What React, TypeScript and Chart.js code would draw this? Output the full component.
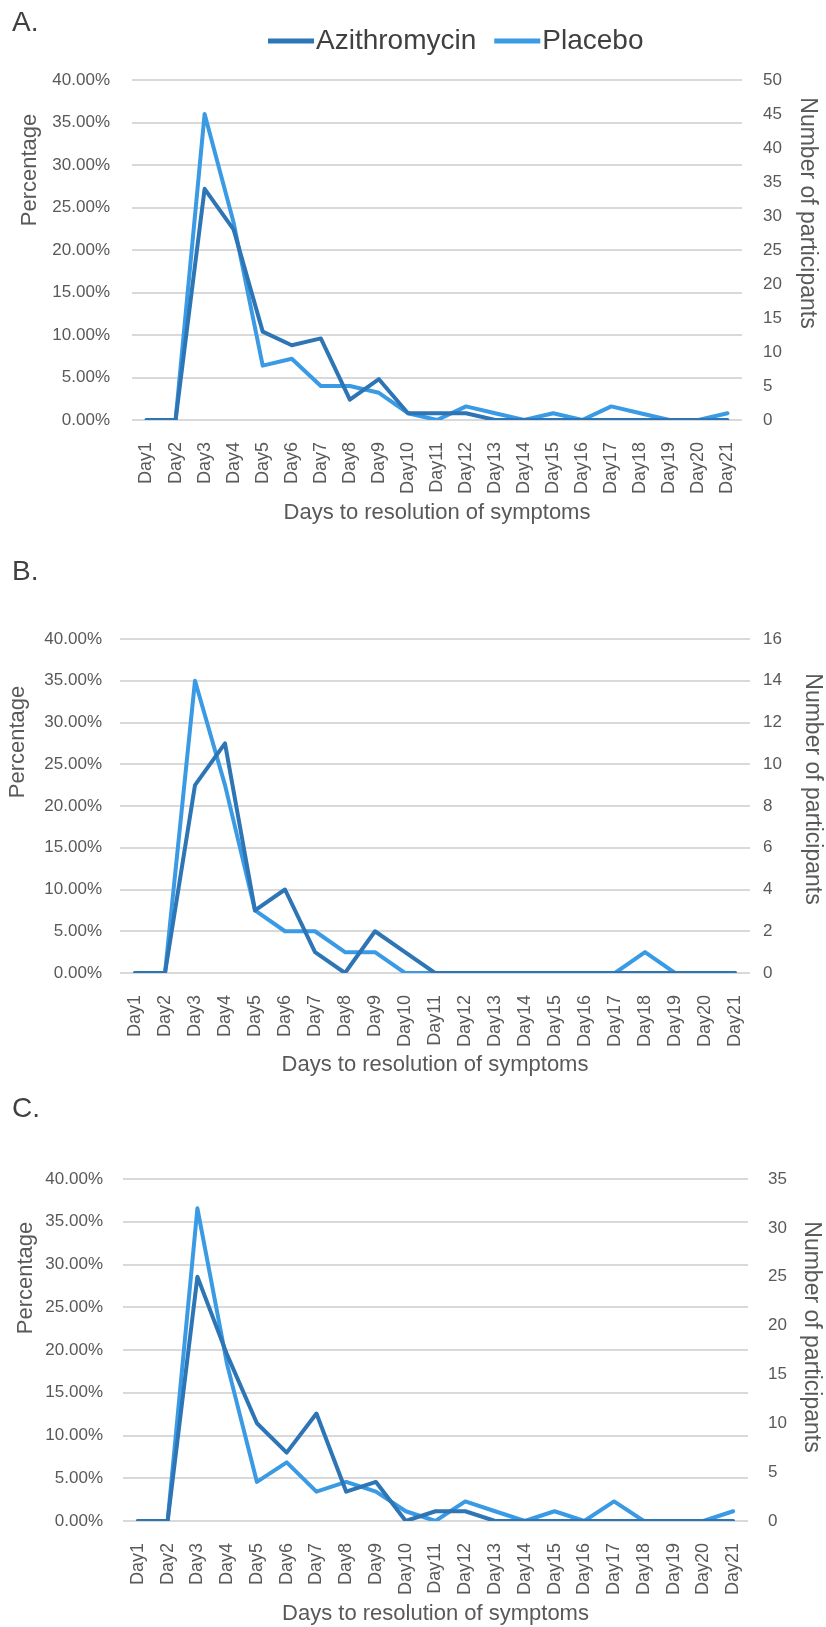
import React, { useEffect, useRef } from "react";
import { Chart, registerables } from "chart.js";

Chart.register(...registerables);

// ---------- data ----------
const days = [
  "Day1", "Day2", "Day3", "Day4", "Day5", "Day6", "Day7", "Day8", "Day9", "Day10",
  "Day11", "Day12", "Day13", "Day14", "Day15", "Day16", "Day17", "Day18", "Day19", "Day20", "Day21",
];

// Panel A (percentages)
const aAzithromycin = [0, 0, 27.2, 22.4, 10.4, 8.8, 9.6, 2.4, 4.8, 0.8, 0.8, 0.8, 0, 0, 0, 0, 0, 0, 0, 0, 0];
const aPlacebo = [0, 0, 36.0, 23.2, 6.4, 7.2, 4.0, 4.0, 3.2, 0.8, 0, 1.6, 0.8, 0, 0.8, 0, 1.6, 0.8, 0, 0, 0.8];
// Panel B
const bAzithromycin = [0, 0, 22.5, 27.5, 7.5, 10.0, 2.5, 0, 5.0, 2.5, 0, 0, 0, 0, 0, 0, 0, 0, 0, 0, 0];
const bPlacebo = [0, 0, 35.0, 22.5, 7.5, 5.0, 5.0, 2.5, 2.5, 0, 0, 0, 0, 0, 0, 0, 0, 2.5, 0, 0, 0];
// Panel C
const cAzithromycin = [0, 0, 28.57, 19.43, 11.43, 8.0, 12.57, 3.43, 4.57, 0, 1.14, 1.14, 0, 0, 0, 0, 0, 0, 0, 0, 0];
const cPlacebo = [0, 0, 36.57, 18.29, 4.57, 6.86, 3.43, 4.57, 3.43, 1.14, 0, 2.29, 1.14, 0, 1.14, 0, 2.29, 0, 0, 0, 1.14];

// axis ranges / ticks
const percentMax = 40;
const percentStep = 5;
const aCountMax = 50;
const aCountStep = 5;
const bCountMax = 16;
const bCountStep = 2;
const cCountMax = 35;
const cCountStep = 5;

const seriesNames = ["Azithromycin", "Placebo"];
const panelLetters = ["A.", "B.", "C."];
const xTitle = "Days to resolution of symptoms";
const yLeftTitle = "Percentage";
const yRightTitle = "Number of participants";

// ---------- styles ----------
const FONT = "'Liberation Sans', Arial, sans-serif";
const DARK = "#2E75B6";
const LIGHT = "#3A9AE4";
const TEXT = "#595959";
const GRID = "#D9D9D9";
const W = 826;

const freeTextPlugin = {
  id: "freeText",
  afterDraw(chart: any, _args: any, opts: any) {
    const ctx = chart.ctx;
    (opts.items || []).forEach((it: any) => {
      ctx.save();
      ctx.translate(it.x, it.y);
      ctx.rotate(((it.rotation || 0) * Math.PI) / 180);
      ctx.font = it.font;
      ctx.fillStyle = it.color;
      ctx.textAlign = "center";
      ctx.textBaseline = "middle";
      ctx.fillText(it.text, 0, 0);
      ctx.restore();
    });
  },
};

const lineLegendPlugin = {
  id: "lineLegend",
  afterDraw(chart: any, _args: any, opts: any) {
    if (!opts || !opts.show) return;
    const ctx = chart.ctx;
    ctx.save();
    ctx.font = opts.font;
    ctx.textBaseline = "middle";
    ctx.textAlign = "left";
    let x = opts.x;
    const y = opts.y;
    chart.data.datasets.forEach((ds: any) => {
      ctx.strokeStyle = ds.borderColor;
      ctx.lineWidth = opts.lineWidth;
      ctx.lineCap = "butt";
      ctx.beginPath();
      ctx.moveTo(x, y);
      ctx.lineTo(x + opts.lineLength, y);
      ctx.stroke();
      x += opts.lineLength + opts.textGap;
      ctx.fillStyle = opts.color;
      ctx.fillText(ds.label, x, y);
      x += ctx.measureText(ds.label).width + opts.itemGap;
    });
    ctx.restore();
  },
};

type PanelCfg = {
  top: number;
  height: number;
  plotTop: number;
  plotBottom: number;
  plotLeft: number;
  plotRight: number;
  azi: number[];
  pla: number[];
  countMax: number;
  countStep: number;
  leftPad: number;
  rightPad: number;
  xPad: number;
  xTitlePad: number;
  leftTitle: { x: number; y: number };
  rightTitle: { x: number; y: number };
  legend: boolean;
};

const panels: PanelCfg[] = [
  {
    top: 0, height: 545, plotTop: 80, plotBottom: 420, plotLeft: 132, plotRight: 742,
    azi: aAzithromycin, pla: aPlacebo, countMax: aCountMax, countStep: aCountStep,
    leftPad: 22, rightPad: 21, xPad: 14, xTitlePad: 19,
    leftTitle: { x: 30, y: 170 }, rightTitle: { x: 807, y: 213 }, legend: true,
  },
  {
    top: 545, height: 545, plotTop: 94, plotBottom: 428, plotLeft: 120, plotRight: 750,
    azi: bAzithromycin, pla: bPlacebo, countMax: bCountMax, countStep: bCountStep,
    leftPad: 18, rightPad: 13, xPad: 14, xTitlePad: 12,
    leftTitle: { x: 18, y: 197 }, rightTitle: { x: 812, y: 244 }, legend: false,
  },
  {
    top: 1090, height: 537, plotTop: 89, plotBottom: 431, plotLeft: 123, plotRight: 748,
    azi: cAzithromycin, pla: cPlacebo, countMax: cCountMax, countStep: cCountStep,
    leftPad: 20, rightPad: 20, xPad: 14, xTitlePad: 0,
    leftTitle: { x: 26, y: 188 }, rightTitle: { x: 811, y: 247 }, legend: false,
  },
];

function Panel({ cfg }: { cfg: PanelCfg }) {
  const ref = useRef<HTMLCanvasElement | null>(null);
  useEffect(() => {
    if (!ref.current) return;
    const chart = new Chart(ref.current, {
      type: "line",
      data: {
        labels: days,
        datasets: [
          {
            label: seriesNames[0], data: cfg.azi, borderColor: DARK, backgroundColor: DARK,
            borderWidth: 4, pointRadius: 0, tension: 0, borderJoinStyle: "round", borderCapStyle: "round", yAxisID: "y",
          },
          {
            label: seriesNames[1], data: cfg.pla, borderColor: LIGHT, backgroundColor: LIGHT,
            borderWidth: 4, pointRadius: 0, tension: 0, borderJoinStyle: "round", borderCapStyle: "round", yAxisID: "y",
          },
        ],
      },
      plugins: [freeTextPlugin, lineLegendPlugin],
      options: {
        responsive: false,
        animation: false,
        layout: { padding: { top: cfg.plotTop, left: 0, right: 0, bottom: 0 } },
        plugins: {
          legend: { display: false },
          tooltip: { enabled: false },
          freeText: {
            items: [
              { text: yLeftTitle, x: cfg.leftTitle.x, y: cfg.leftTitle.y, rotation: -90, font: `22px ${FONT}`, color: TEXT },
              { text: yRightTitle, x: cfg.rightTitle.x, y: cfg.rightTitle.y, rotation: 90, font: `23px ${FONT}`, color: TEXT },
            ],
          },
          lineLegend: {
            show: cfg.legend, x: 268, y: 41, font: `28px ${FONT}`, color: "#404040",
            lineLength: 46, lineWidth: 5, textGap: 2, itemGap: 18,
          },
        } as any,
        scales: {
          x: {
            type: "category",
            offset: true,
            grid: { display: false },
            border: { display: false },
            ticks: {
              autoSkip: false, minRotation: 90, maxRotation: 90, padding: cfg.xPad,
              color: TEXT, font: { family: FONT, size: 18 },
            },
            title: {
              display: true, text: xTitle, color: TEXT, font: { family: FONT, size: 22 },
              padding: { top: 0, bottom: cfg.xTitlePad },
            },
            afterFit: (s: any) => { s.height = cfg.height - cfg.plotBottom; },
          },
          y: {
            position: "left",
            min: 0, max: percentMax,
            grid: { color: GRID, lineWidth: 2, drawTicks: false },
            border: { display: false },
            ticks: {
              stepSize: percentStep, padding: cfg.leftPad, color: TEXT, font: { family: FONT, size: 17 },
              callback: (v: any) => Number(v).toFixed(2) + "%",
            },
            afterFit: (s: any) => { s.width = cfg.plotLeft; },
          },
          y1: {
            position: "right",
            min: 0, max: cfg.countMax,
            grid: { display: false, drawTicks: false },
            border: { display: false },
            ticks: { stepSize: cfg.countStep, padding: cfg.rightPad, color: TEXT, font: { family: FONT, size: 17 } },
            afterFit: (s: any) => { s.width = W - cfg.plotRight; },
          },
        },
      } as any,
    });
    return () => chart.destroy();
  }, [cfg]);
  return (
    <div style={{ position: "absolute", left: 0, top: cfg.top, width: W, height: cfg.height }}>
      <canvas ref={ref} width={W} height={cfg.height} style={{ display: "block", width: W, height: cfg.height }} />
    </div>
  );
}

const letterTops = [6, 555, 1092];

export default function App() {
  return (
    <div style={{ position: "absolute", left: 0, top: 0, width: W, height: 1627, background: "#fff", overflow: "hidden" }}>
      {panels.map((p, i) => (
        <Panel key={i} cfg={p} />
      ))}
      {panelLetters.map((t, i) => (
        <div
          key={t}
          style={{
            position: "absolute", left: 12, top: letterTops[i], fontFamily: FONT, fontSize: 28,
            lineHeight: "32px", color: "#404040",
          }}
        >
          {t}
        </div>
      ))}
    </div>
  );
}
